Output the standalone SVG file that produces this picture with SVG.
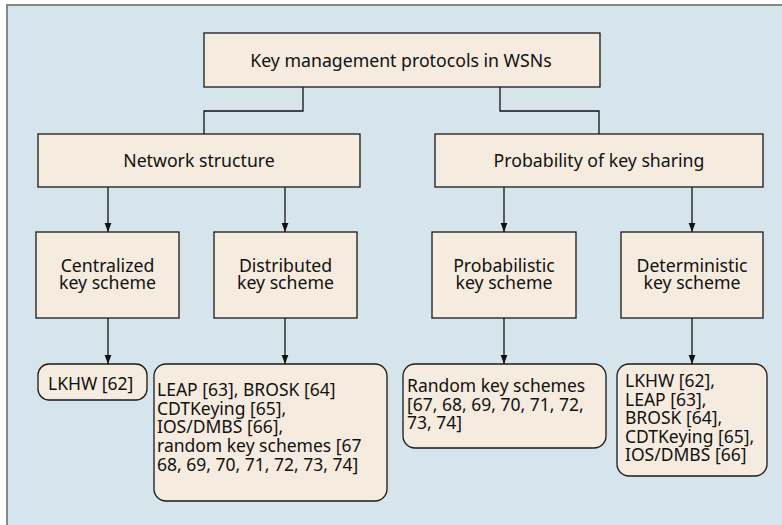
<svg xmlns="http://www.w3.org/2000/svg" width="782" height="525" viewBox="0 0 782 525">
<defs>
<style>
.bg{fill:#d6e4eb;stroke:#6e6e6e;stroke-width:1.6}
.box{fill:#f5ebde;stroke:#1a1a1a;stroke-width:1.3}
.t{font-family:"Noto Sans","Open Sans",sans-serif;font-size:17.7px;fill:#111;text-anchor:middle}
.l{font-family:"Noto Sans","Open Sans",sans-serif;font-size:17.5px;fill:#111}
.c{fill:none;stroke:#111;stroke-width:1.3}
</style>
<marker id="arr" markerWidth="9" markerHeight="12" refX="12" refY="4.5" orient="auto" markerUnits="userSpaceOnUse" viewBox="0 0 12 9">
<path d="M0,0 L12,4.5 L0,9 Z" fill="#111"/>
</marker>
</defs>
<rect class="bg" x="7" y="5" width="785" height="530"/>
<g id="connectors">
<path class="c" d="M303,87 V111 H204 V134"/>
<path class="c" d="M500,87 V111 H599 V134"/>
<path class="c" d="M108,187 V232" marker-end="url(#arr)"/>
<path class="c" d="M285,187 V232" marker-end="url(#arr)"/>
<path class="c" d="M504,187 V232" marker-end="url(#arr)"/>
<path class="c" d="M692,187 V232" marker-end="url(#arr)"/>
<path class="c" d="M108,318 V364" marker-end="url(#arr)"/>
<path class="c" d="M285,318 V364" marker-end="url(#arr)"/>
<path class="c" d="M504,318 V364" marker-end="url(#arr)"/>
<path class="c" d="M692,318 V364" marker-end="url(#arr)"/>
</g>
<g id="root">
<rect class="box" x="204" y="33" width="396" height="54"/>
<text class="t" x="401" y="67">Key management protocols in WSNs</text>
</g>
<g id="network">
<rect class="box" x="38" y="134" width="322" height="53"/>
<text class="t" x="199" y="167">Network structure</text>
</g>
<g id="probability">
<rect class="box" x="435" y="134" width="328" height="53"/>
<text class="t" x="599" y="167">Probability of key sharing</text>
</g>
<g id="centralized">
<rect class="box" x="36" y="232" width="143" height="86"/>
<text class="t" x="107.5" y="272">Centralized</text>
<text class="t" x="107.5" y="289">key scheme</text>
</g>
<g id="distributed">
<rect class="box" x="214" y="232" width="143" height="86"/>
<text class="t" x="285.5" y="272">Distributed</text>
<text class="t" x="285.5" y="289">key scheme</text>
</g>
<g id="probabilistic">
<rect class="box" x="432" y="232" width="144" height="86"/>
<text class="t" x="504" y="272">Probabilistic</text>
<text class="t" x="504" y="289">key scheme</text>
</g>
<g id="deterministic">
<rect class="box" x="621" y="232" width="142" height="86"/>
<text class="t" x="692" y="272">Deterministic</text>
<text class="t" x="692" y="289">key scheme</text>
</g>
<g id="leaf-centralized">
<rect class="box" x="38" y="364" width="109" height="36" rx="11"/>
<text class="l" x="48" y="390">LKHW [62]</text>
</g>
<g id="leaf-distributed">
<rect class="box" x="154" y="364" width="233" height="137" rx="12"/>
<text class="l" x="157" y="396">LEAP [63], BROSK [64]</text>
<text class="l" x="157" y="414.7">CDTKeying [65],</text>
<text class="l" x="157" y="433.4">IOS/DMBS [66],</text>
<text class="l" x="157" y="452.1">random key schemes [67</text>
<text class="l" x="157" y="470.8">68, 69, 70, 71, 72, 73, 74]</text>
</g>
<g id="leaf-probabilistic">
<rect class="box" x="403" y="364" width="203" height="84" rx="12"/>
<text class="l" x="407" y="392">Random key schemes</text>
<text class="l" x="407" y="410.5">[67, 68, 69, 70, 71, 72,</text>
<text class="l" x="407" y="429">73, 74]</text>
</g>
<g id="leaf-deterministic">
<rect class="box" x="617" y="364" width="150" height="112" rx="12"/>
<text class="l" x="625" y="387">LKHW [62],</text>
<text class="l" x="625" y="405.5">LEAP [63],</text>
<text class="l" x="625" y="424">BROSK [64],</text>
<text class="l" x="625" y="442.5">CDTKeying [65],</text>
<text class="l" x="625" y="461">IOS/DMBS [66]</text>
</g>
</svg>
